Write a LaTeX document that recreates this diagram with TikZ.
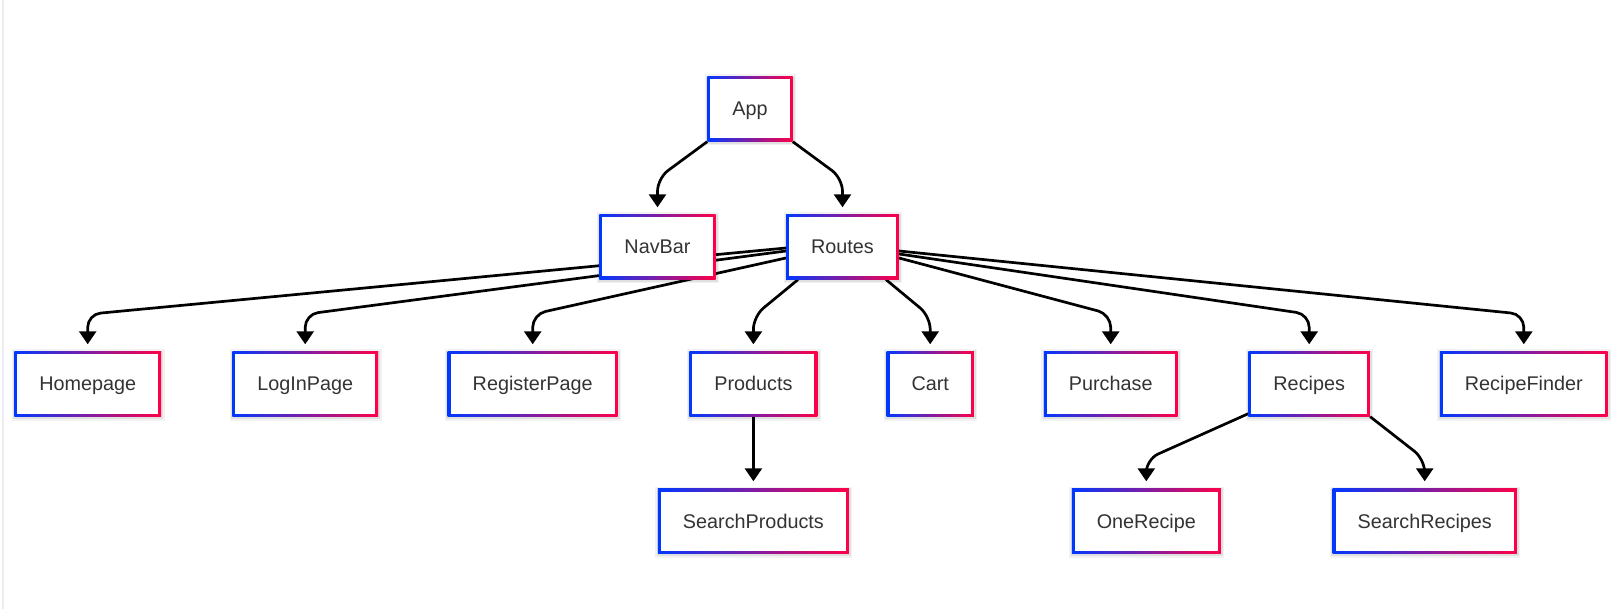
\documentclass[tikz,border=0pt]{standalone}
\usepackage{fontspec}
\setmainfont{Liberation Sans}
\usetikzlibrary{arrows.meta,calc}
\definecolor{gblue}{RGB}{0,56,255}
\definecolor{gred}{RGB}{255,0,72}
\definecolor{txt}{RGB}{51,51,51}
\definecolor{edgeline}{RGB}{236,236,242}
\pgfdeclarelayer{background}
\pgfdeclarelayer{bottom}
\pgfsetlayers{bottom,background,main}
\begin{document}
\begin{tikzpicture}[x=1pt,y=-1pt,
  box/.style={rectangle, inner xsep=25pt, inner ysep=0pt, minimum height=65pt,
    text height=17pt, text depth=3pt,
    text=txt, font=\fontsize{19.8}{24}\selectfont,
    preaction={draw=black, draw opacity=0.05, line width=6pt, transform canvas={xshift=0.5pt,yshift=-1pt}},
    preaction={draw=black, draw opacity=0.07, line width=3.5pt, transform canvas={xshift=0.5pt,yshift=-1pt}},
    path picture={
      \shade[left color=gblue, right color=gred]
        (path picture bounding box.south west) rectangle (path picture bounding box.north east);
      \fill[white]
        ([shift={(3pt,3pt)}]path picture bounding box.south west) rectangle
        ([shift={(-3pt,-3pt)}]path picture bounding box.north east);
    }},
  conn/.style={line width=2.7pt, rounded corners=13pt,
    -{Triangle[width=17pt,length=13pt]}, shorten >=7pt}
]
\useasboundingbox (0,0) rectangle (1617,609);
\begin{pgfonlayer}{bottom}
\fill[white] (0,0) rectangle (1617,609);
\fill[edgeline] (2.2,0) rectangle (3.8,609);
\end{pgfonlayer}

% nodes
\node[box] (app) at (750,109) {App};
\node[box] (navbar) at (657.5,247) {NavBar};
\node[box] (routes) at (842.5,247) {Routes};

\node[box] (homepage) at (87.7,384) {Homepage};
\node[box] (login) at (305.2,384) {LogInPage};
\node[box] (register) at (532.7,384) {RegisterPage};
\node[box] (products) at (753.4,384) {Products};
\node[box] (cart) at (930.2,384) {Cart};
\node[box] (purchase) at (1110.7,384) {Purchase};
\node[box] (recipes) at (1309.2,384) {Recipes};
\node[box] (finder) at (1523.8,384) {RecipeFinder};

\node[box] (searchproducts) at (753.4,521) {SearchProducts};
\node[box] (onerecipe) at (1146.3,521) {OneRecipe};
\node[box] (searchrecipes) at (1424.7,521) {SearchRecipes};

% connectors
\begin{pgfonlayer}{background}
\draw[conn] (app.south west) -- ($(navbar.north)+(0,-36)$) -- (navbar.north);
\draw[conn] (app.south east) -- ($(routes.north)+(0,-36)$) -- (routes.north);

\draw[conn] ($(routes.west)+(0,1)$) -- ($(homepage.north)+(0,-37)$) -- (homepage.north);
\draw[conn] ($(routes.west)+(0,4)$) -- ($(login.north)+(0,-37)$) -- (login.north);
\draw[conn] ($(routes.west)+(0,11)$) -- ($(register.north)+(0,-37)$) -- (register.north);
\draw[conn] ($(routes.south west)+(12,0)$) -- ($(products.north)+(0,-35)$) -- (products.north);
\draw[conn] ($(routes.south east)+(-13,0)$) -- ($(cart.north)+(0,-35)$) -- (cart.north);
\draw[conn] ($(routes.east)+(0,11)$) -- ($(purchase.north)+(0,-37)$) -- (purchase.north);
\draw[conn] ($(routes.east)+(0,7)$) -- ($(recipes.north)+(0,-37)$) -- (recipes.north);
\draw[conn] ($(routes.east)+(0,4)$) -- ($(finder.north)+(0,-37)$) -- (finder.north);

\draw[conn] (products.south) -- (searchproducts.north);
\draw[conn] ($(recipes.south west)+(0,-3)$) -- ($(onerecipe.north)+(0,-29)$) -- (onerecipe.north);
\draw[conn] (recipes.south east) -- ($(searchrecipes.north)+(0,-29)$) -- (searchrecipes.north);
\end{pgfonlayer}
\end{tikzpicture}
\end{document}
